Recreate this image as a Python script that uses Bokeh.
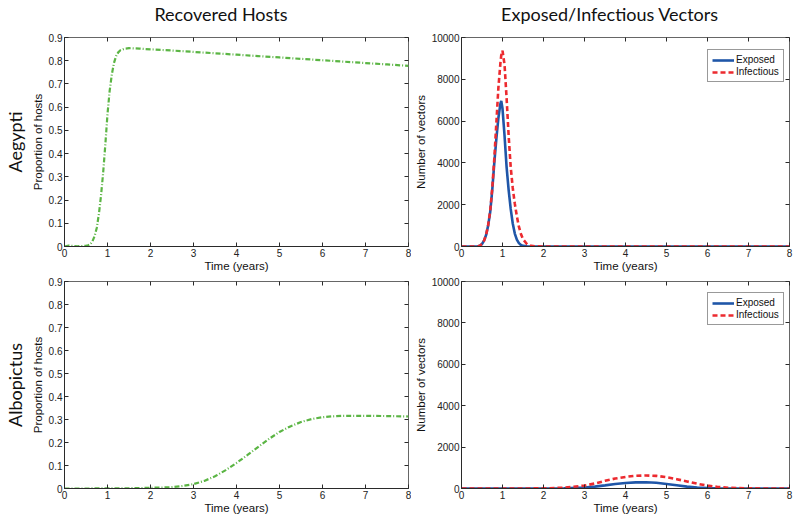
from bokeh.plotting import figure
from bokeh.models import Range1d, FixedTicker, LinearAxis, Label
from bokeh.layouts import gridplot
from bokeh.embed import file_html
from bokeh.resources import INLINE

# ---------------- data ----------------
col_titles = ["Recovered Hosts", "Exposed/Infectious Vectors"]
row_titles = ["Aegypti", "Albopictus"]
x_label = "Time (years)"
y_label_hosts = "Proportion of hosts"
y_label_vectors = "Number of vectors"
series_names = ["Exposed", "Infectious"]

x_ticks = [0, 1, 2, 3, 4, 5, 6, 7, 8]
host_ticks = [0, 0.1, 0.2, 0.3, 0.4, 0.5, 0.6, 0.7, 0.8, 0.9]
host_tick_labels = ["0", "0.1", "0.2", "0.3", "0.4", "0.5", "0.6", "0.7", "0.8", "0.9"]
vector_ticks = [0, 2000, 4000, 6000, 8000, 10000]

t_aeg_rec = [0, 0.1, 0.2, 0.3, 0.4, 0.5, 0.55, 0.6, 0.65, 0.7, 0.75, 0.8, 0.85, 0.9, 0.95, 1.0,
             1.05, 1.1, 1.15, 1.2, 1.25, 1.3, 1.4, 1.5, 1.75, 2, 2.5, 3, 3.5, 4, 4.5, 5, 5.5, 6,
             6.5, 7, 7.5, 8]
rec_aeg = [0, 0.004, 0.002, 0.001, 0.002, 0.003, 0.005, 0.01, 0.022, 0.045, 0.08, 0.14, 0.22,
           0.32, 0.44, 0.57, 0.67, 0.74, 0.79, 0.82, 0.836, 0.845, 0.852, 0.854, 0.852, 0.849,
           0.844, 0.838, 0.832, 0.826, 0.820, 0.814, 0.808, 0.802, 0.796, 0.790, 0.784, 0.778]

t_alb_rec = [0, 0.5, 1, 1.5, 2, 2.25, 2.5, 2.75, 3, 3.25, 3.5, 3.75, 4, 4.25, 4.5, 4.75, 5,
             5.25, 5.5, 5.75, 6, 6.25, 6.5, 7, 7.5, 8]
rec_alb = [0, 0, 0.0005, 0.001, 0.003, 0.004, 0.006, 0.011, 0.019, 0.033, 0.053, 0.08, 0.111,
           0.145, 0.18, 0.215, 0.246, 0.27, 0.289, 0.302, 0.31, 0.314, 0.316, 0.316, 0.315, 0.313]

t_aeg_vec = [0, 0.2, 0.3, 0.4, 0.45, 0.5, 0.55, 0.6, 0.65, 0.7, 0.75, 0.8, 0.85, 0.9, 0.95, 0.97,
             1.0, 1.05, 1.1, 1.15, 1.2, 1.25, 1.3, 1.35, 1.4, 1.45, 1.5, 1.6, 1.7, 1.8, 2, 3, 4,
             5, 6, 7, 8]
exp_aeg = [0, 0, 2, 10, 40, 120, 280, 550, 1000, 1650, 2700, 4000, 5150, 6150, 6850, 6960,
           6600, 5300, 3800, 2700, 1800, 1100, 620, 330, 160, 70, 30, 8, 2, 0, 0, 0, 0,
           0, 0, 0, 0]
inf_aeg = [0, 0, 2, 10, 40, 120, 280, 560, 1020, 1700, 2800, 4200, 5900, 7600, 8800, 9150,
           9370, 8700, 7100, 5300, 3800, 2800, 2050, 1450, 950, 600, 350, 110, 30, 8, 0, 0, 0,
           0, 0, 0, 0]

t_alb_vec = [0, 1, 2, 2.5, 3, 3.25, 3.5, 3.75, 4, 4.25, 4.5, 4.75, 5, 5.25, 5.5, 5.75, 6, 6.25,
             6.5, 7, 8]
exp_alb = [0, 0, 2, 12, 45, 90, 150, 215, 265, 295, 300, 280, 220, 160, 90, 45, 18, 8, 3, 0, 0]
inf_alb = [0, 0, 5, 40, 140, 240, 370, 480, 560, 615, 630, 610, 545, 450, 340, 230, 140, 75,
           35, 5, 0]

# ---------------- styles ----------------
GREEN = "#5BB544"
BLUE = "#1F56A8"
RED = "#EC2A2F"
AX = "#2a2a2a"
TICK_FONT = "Liberation Sans"
TITLE_FONT = "Lato"


def make_fig(width, height, b_left, b_right, b_top, b_bottom, ymax, yticks, ylabel,
             overrides=None, row_title=None):
    p = figure(width=width, height=height, output_backend="svg", toolbar_location=None,
               x_range=Range1d(0, 8), y_range=Range1d(0, ymax),
               min_border_left=b_left, min_border_right=b_right,
               min_border_top=b_top, min_border_bottom=b_bottom)
    p.grid.visible = False
    p.outline_line_color = "#666666"
    p.outline_line_width = 1
    p.background_fill_color = "white"
    p.border_fill_color = "white"
    for ax in (p.xaxis[0], p.yaxis[0]):
        ax.axis_line_color = AX
        ax.major_tick_line_color = AX
        ax.major_tick_in = 4
        ax.major_tick_out = 0
        ax.minor_tick_line_color = None
        ax.major_label_text_font = TICK_FONT
        ax.major_label_text_font_size = "10px"
        ax.major_label_text_color = "#222222"
        ax.axis_label_text_font = TICK_FONT
        ax.axis_label_text_font_size = "11.5px"
        ax.axis_label_text_font_style = "normal"
        ax.axis_label_text_color = "#111111"
        ax.major_label_standoff = 2
    p.xaxis[0].ticker = FixedTicker(ticks=x_ticks)
    p.xaxis[0].axis_label_standoff = 0
    p.xaxis[0].axis_label = x_label
    p.yaxis[0].ticker = FixedTicker(ticks=yticks)
    p.yaxis[0].axis_label_standoff = 2
    p.yaxis[0].axis_label = ylabel
    if overrides:
        p.yaxis[0].major_label_overrides = overrides
    # tick marks on top and right edges (MATLAB box style), no labels
    top = LinearAxis(ticker=FixedTicker(ticks=x_ticks), major_label_text_font_size="1px",
                     major_label_text_color=None, major_label_standoff=0,
                     major_tick_in=4, major_tick_out=0,
                     minor_tick_line_color=None, axis_line_color=None,
                     major_tick_line_color=AX)
    right = LinearAxis(ticker=FixedTicker(ticks=yticks), major_label_text_font_size="1px",
                       major_label_text_color=None, major_label_standoff=0,
                       major_tick_in=4, major_tick_out=0,
                       minor_tick_line_color=None, axis_line_color=None,
                       major_tick_line_color=AX)
    p.add_layout(top, "above")
    p.add_layout(right, "right")
    if row_title:
        rt = LinearAxis(ticker=FixedTicker(ticks=[]), major_label_text_font_size="1px",
                        major_label_text_color=None, major_label_standoff=0,
                        major_tick_in=0, major_tick_out=0, major_tick_line_color=None,
                        minor_tick_line_color=None, axis_line_color=None,
                        axis_label=row_title, axis_label_standoff=3,
                        axis_label_text_font=TITLE_FONT, axis_label_text_font_size="18px",
                        axis_label_text_font_style="normal", axis_label_text_color="#111111")
        p.add_layout(rt, "left")
    return p


def text_fig(width, height, tx, ty, txt):
    f = figure(width=width, height=height, output_backend="svg", toolbar_location=None,
               x_range=Range1d(0, width), y_range=Range1d(0, height),
               x_axis_location=None, y_axis_location=None,
               min_border=0, min_border_left=0, min_border_right=0,
               min_border_top=0, min_border_bottom=0)
    f.grid.visible = False
    f.outline_line_color = None
    f.add_layout(Label(x=tx, y=ty, text=txt, text_align="center", text_baseline="middle",
                       text_font=TITLE_FONT, text_font_size="18px", text_color="#111111"))
    return f


host_over = {t: s for t, s in zip(host_ticks, host_tick_labels)}

# top-left: recovered hosts, Aegypti
p1 = make_fig(411, 248, 64, 3, 9, 29, 0.9, host_ticks, y_label_hosts, host_over,
              row_title=row_titles[0])
p1.line(t_aeg_rec, rec_aeg, line_color=GREEN, line_width=2.2, line_dash="5 2 1 2")

# top-right: vectors, Aegypti
p2 = make_fig(389, 248, 49, 11, 6, 30, 10000, vector_ticks, y_label_vectors)
p2.line(t_aeg_vec, exp_aeg, line_color=BLUE, line_width=2.6, legend_label=series_names[0])
p2.line(t_aeg_vec, inf_aeg, line_color=RED, line_width=2.6, line_dash="5 3",
        legend_label=series_names[1])

# bottom-left: recovered hosts, Albopictus
p3 = make_fig(411, 246, 64, 3, 5, 34, 0.9, host_ticks, y_label_hosts, host_over,
              row_title=row_titles[1])
p3.line(t_alb_rec, rec_alb, line_color=GREEN, line_width=2.2, line_dash="5 2 1 2")

# bottom-right: vectors, Albopictus
p4 = make_fig(389, 246, 49, 11, 4, 34, 10000, vector_ticks, y_label_vectors)
p4.line(t_alb_vec, exp_alb, line_color=BLUE, line_width=2.6, legend_label=series_names[0])
p4.line(t_alb_vec, inf_alb, line_color=RED, line_width=2.6, line_dash="5 3",
        legend_label=series_names[1])

for p, loc in ((p2, (246, 164)), (p4, (246, 163))):
    lg = p.legend[0]
    lg.location = loc
    lg.label_text_font = TICK_FONT
    lg.label_text_font_size = "10px"
    lg.label_text_color = "#111111"
    lg.glyph_width = 22
    lg.glyph_height = 10
    lg.label_height = 10
    lg.label_standoff = 2
    lg.spacing = 1
    lg.padding = 4
    lg.margin = 0
    lg.border_line_color = "#333333"
    lg.border_line_width = 1
    lg.background_fill_color = "white"
    lg.background_fill_alpha = 1

# column titles (header row)
h1 = text_fig(411, 28, 187, 15, col_titles[0])
h2 = text_fig(389, 28, 176, 15, col_titles[1])

grid = gridplot([[h1, h2], [p1, p2], [p3, p4]], toolbar_location=None)

open("out.html", "w").write(file_html(grid, INLINE))
